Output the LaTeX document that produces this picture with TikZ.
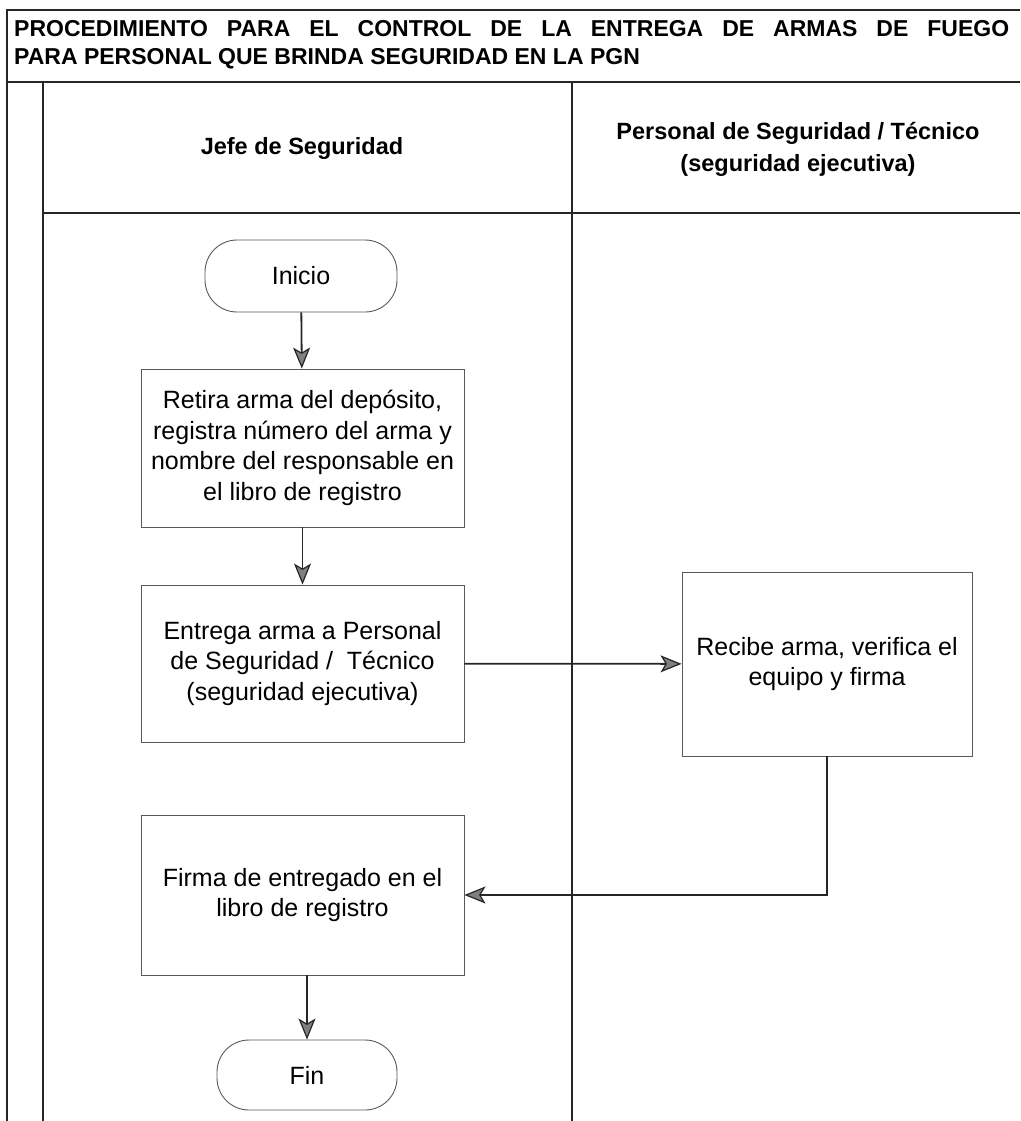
\documentclass[tikz,border=0pt]{standalone}
\usepackage{fontspec}
\setmainfont{Liberation Sans}
\usetikzlibrary{arrows.meta}

\begin{document}
\begin{tikzpicture}[x=1pt,y=-1pt,
  frameline/.style={line width=1.5pt,black!85},
  stepbox/.style={draw=black!65,line width=0.9pt,align=center,inner sep=0pt,
    font=\fontsize{25}{30.5}\selectfont},
  terminal/.style={draw=black!65,line width=0.9pt,rounded corners=32pt,inner sep=0pt,
    font=\fontsize{25}{30}\selectfont},
  flow/.style={line width=1.8pt,black!85,
    -{Stealth[length=21pt,width=17pt,inset=5pt,line width=1.2pt,fill=black!50]}},
  lanehead/.style={align=center,font=\fontsize{23.5}{32}\selectfont\bfseries},
  titletext/.style={anchor=base west,inner sep=0pt,font=\fontsize{23}{28}\selectfont\bfseries}
]
\useasboundingbox (0,0) rectangle (1020,1121);

% frame of the chart and its swimlanes
\draw[frameline] (1020,10) -- (7,10) -- (7,1121);
\draw[frameline] (7,82) -- (1020,82);
\draw[frameline] (43,82) -- (43,1121);
\draw[frameline] (43,213) -- (1020,213);
\draw[frameline] (572,82) -- (572,1121);

% title
\node[titletext] (ttl1) at (14,37)
  {\makebox[995pt][s]{PROCEDIMIENTO PARA EL CONTROL DE LA ENTREGA DE ARMAS DE FUEGO}};
\node[titletext] (ttl2) at (14,65) {PARA PERSONAL QUE BRINDA SEGURIDAD EN LA PGN};

% lane headings
\node[lanehead] (hdrA) at (302,148) {Jefe de Seguridad};
\node[lanehead] (hdrB) at (798,149) {Personal de Seguridad / Técnico\\(seguridad ejecutiva)};

% steps
\node[terminal,minimum width=192pt,minimum height=72pt] (inicio) at (301,276) {Inicio};
\node[stepbox,minimum width=323pt,minimum height=158pt] (retira) at (302.5,448)
  {Retira arma del depósito,\\registra número del arma y\\nombre del responsable en\\el libro de registro};
\node[stepbox,minimum width=323pt,minimum height=157pt] (entrega) at (302.5,663.5)
  {Entrega arma a Personal\\de Seguridad /\ \ Técnico\\(seguridad ejecutiva)};
\node[stepbox,minimum width=290pt,minimum height=184pt] (recibe) at (827,664)
  {Recibe arma, verifica el\\equipo y firma};
\node[stepbox,minimum width=323pt,minimum height=160pt] (firma) at (302.5,895)
  {Firma de entregado en el\\libro de registro};
\node[terminal,minimum width=180pt,minimum height=70pt] (fin) at (307,1075) {Fin};

% connectors
\draw[flow] (inicio) -- (retira);
\draw[flow] (retira) -- (entrega);
\draw[flow] (entrega) -- (recibe);
\draw[flow] (recibe.south) |- (firma.east);
\draw[flow] (firma.south -| fin.north) -- (fin.north);
\end{tikzpicture}
\end{document}
